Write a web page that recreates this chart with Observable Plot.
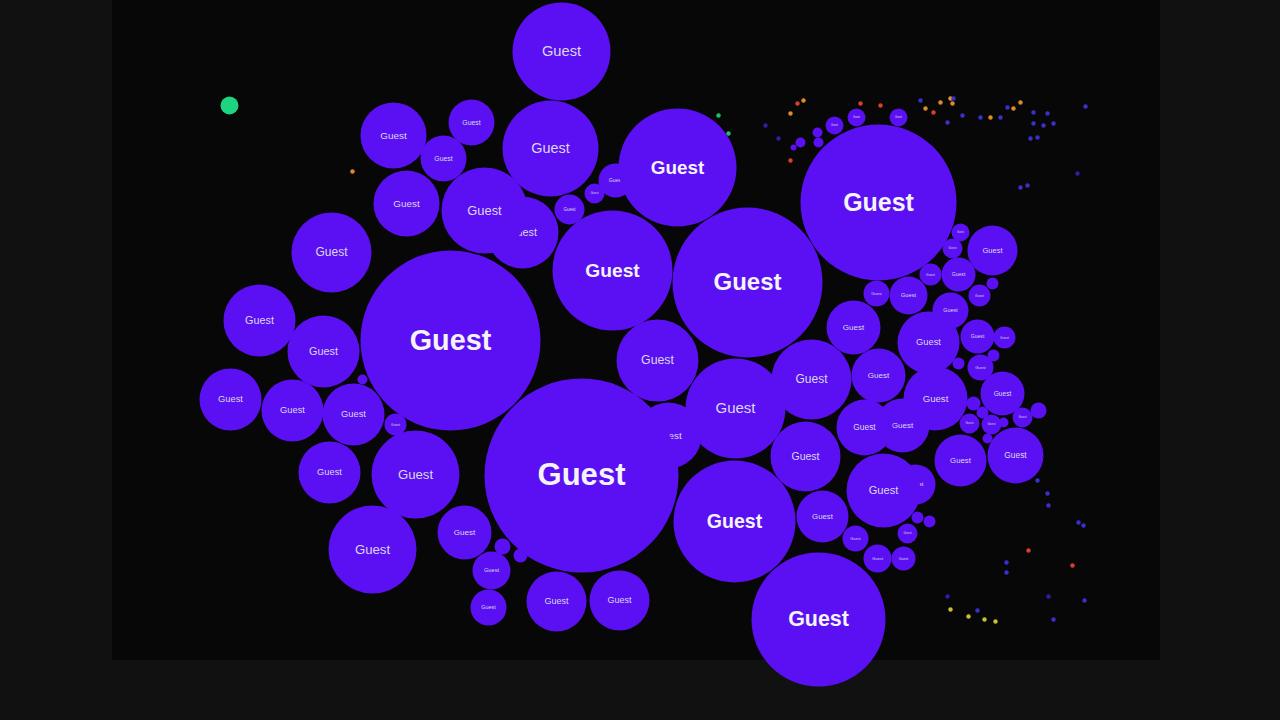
<!DOCTYPE html>
<html>
<head>
<meta charset="utf-8">
<script src="https://cdn.jsdelivr.net/npm/d3@7"></script>
<script src="https://cdn.jsdelivr.net/npm/@observablehq/plot@0.6"></script>
<style>
  html, body { margin: 0; padding: 0; background: #111; overflow: hidden; }
  #chart { width: 1280px; height: 720px; }
</style>
</head>
<body>
<div id="chart"></div>
<script>
// arena bounds (world units)
const arenaX = [112, 1160]
const arenaY = [0, 660]

// player cells, all named "Guest": centre and radius in world units
const cellName = "Guest"
const cellX = [561, 550, 677, 878, 450, 747, 612, 581, 734, 818, 735, 657, 811, 484, 522, 668,
  805, 822, 853, 878, 864, 902, 935, 928, 883, 915, 960, 1015, 992, 1002, 958, 908, 950, 977,
  876, 930, 952, 960, 979, 992, 1004, 980, 993, 958, 973, 982, 969, 991, 1003, 1022, 1038, 987,
  917, 929, 855, 877, 907, 903, 834, 856, 898, 817, 800, 818, 793,
  393, 471, 443, 406, 331, 259, 323, 230, 292, 353, 395, 362, 329, 415, 372, 464, 491, 488,
  556, 619, 502, 520, 569, 594, 615]
const cellY = [51, 148, 167, 202, 340, 282, 270, 475, 521, 619, 408, 360, 379, 210, 232, 435,
  456, 516, 327, 375, 427, 425, 398, 342, 490, 484, 460, 455, 250, 393, 274, 295, 310, 336,
  293, 274, 248, 232, 295, 283, 337, 367, 355, 363, 403, 412, 423, 424, 422, 417, 410, 438,
  517, 521, 538, 558, 533, 558, 125, 117, 117, 132, 142, 142, 147,
  135, 122, 158, 203, 252, 320, 351, 399, 410, 414, 424, 379, 472, 474, 549, 532, 570, 607,
  601, 600, 546, 555, 209, 193, 180]
const cellSize = [49, 48, 59, 78, 90, 75, 60, 97, 61, 67, 50, 41, 40, 43, 36, 33,
  35, 26, 27, 27, 28, 27, 32, 31, 37, 20, 26, 28, 25, 22, 17, 19, 18, 17,
  13, 11, 10, 9, 11, 6, 11, 13, 6, 6, 7, 6, 10, 10, 5, 10, 8, 5,
  6, 6, 13, 14, 10, 12, 9, 9, 9, 5, 5, 5, 3,
  33, 23, 23, 33, 40, 36, 36, 31, 31, 31, 11, 5, 31, 44, 44, 27, 19, 18,
  30, 30, 8, 7, 15, 10, 17]

// food pellets
const pelletX = [797, 803, 790, 860, 880, 925, 940, 950, 952, 953, 933, 920, 962, 947, 980, 990,
  1000, 1007, 1020, 1013, 1033, 1047, 1033, 1043, 1053, 1037, 1030, 1085, 765, 778, 790, 1027,
  1020, 1077, 352, 718, 728,
  1037, 1047, 1048, 1078, 1083, 1028, 1072, 1006, 1006, 947, 950, 968, 977, 984, 995, 1048, 1084, 1053]
const pelletY = [103, 100, 113, 103, 105, 108, 102, 98, 103, 98, 112, 100, 115, 122, 117, 117,
  117, 107, 102, 108, 112, 113, 123, 125, 123, 137, 138, 106, 125, 138, 160, 185,
  187, 173, 171, 115, 133,
  480, 493, 505, 522, 525, 550, 565, 562, 572, 596, 609, 616, 610, 619, 621, 596, 600, 619]
const pelletColor = ["#d8402c", "#e08a2a", "#e08a2a", "#d8402c", "#d8402c", "#e08a2a", "#e08a2a", "#e0962a",
  "#e08a2a", "#3a30d0", "#d8402c", "#3a30d0", "#3a30d0", "#3a30d0", "#3a30d0", "#e08a2a",
  "#3a30d0", "#3a30d0", "#e08a2a", "#e08a2a", "#3a30d0", "#3a30d0", "#3a30d0", "#3a30d0",
  "#3a30d0", "#3a30d0", "#3a30d0", "#3a30d0", "#2a20a8", "#2a20a8", "#d8402c", "#3a30d0",
  "#3a30d0", "#2a20a8", "#e08a2a", "#20c070", "#20c070",
  "#3a30d0", "#3a30d0", "#3a30d0", "#3a30d0", "#3a30d0", "#d8402c", "#d8402c", "#3a30d0",
  "#3a30d0", "#2a20a8", "#c8c030", "#c8c030", "#3a30d0", "#c8c030", "#c8c030", "#2a20a8",
  "#3a30d0", "#3a30d0"]

// the lone green cell
const greenX = [229]
const greenY = [105]
const greenSize = [9]

// smaller cells drawn first, bigger ones on top (labels go with their cell)
const cells = cellX
  .map((x, i) => ({x, y: cellY[i], r: cellSize[i], name: cellName}))
  .sort((a, b) => a.r - b.r)
const pellets = pelletX.map((x, i) => ({x, y: pelletY[i], color: pelletColor[i]}))
const green = greenX.map((x, i) => ({x, y: greenY[i], r: greenSize[i]}))
const arena = [{x1: arenaX[0], x2: arenaX[1], y1: arenaY[0], y2: arenaY[1]}]

const cellMarks = cells.flatMap(c => {
  const marks = [Plot.dot([c], {x: "x", y: "y", r: "r", fill: "#5a10f2"})]
  if (c.r >= 9) {
    const big = c.r > 55
    marks.push(Plot.text([c], {
      x: "x", y: "y", text: "name",
      fontSize: c.r * (big ? 0.32 : 0.3),
      fontWeight: big ? "bold" : "normal",
      fill: big ? "#f4f4f8" : "#dcd8f0"
    }))
  }
  return marks
})

const chart = Plot.plot({
  width: 1280,
  height: 720,
  margin: 0,
  x: {domain: [0, 1280], range: [0, 1280], axis: null},
  y: {domain: [0, 720], range: [0, 720], axis: null},
  r: {type: "linear", domain: [0, 100], range: [0, 100]},
  style: {background: "#111", fontFamily: "Liberation Sans, Arial, sans-serif"},
  marks: [
    Plot.rect(arena, {x1: "x1", x2: "x2", y1: "y1", y2: "y2", fill: "#070707"}),
    Plot.dot(pellets, {x: "x", y: "y", r: 2.2, fill: "color"}),
    Plot.dot(green, {x: "x", y: "y", r: "r", fill: "#1ed47f"}),
    ...cellMarks
  ]
})

d3.select("#chart").append(() => chart)
</script>
</body>
</html>
